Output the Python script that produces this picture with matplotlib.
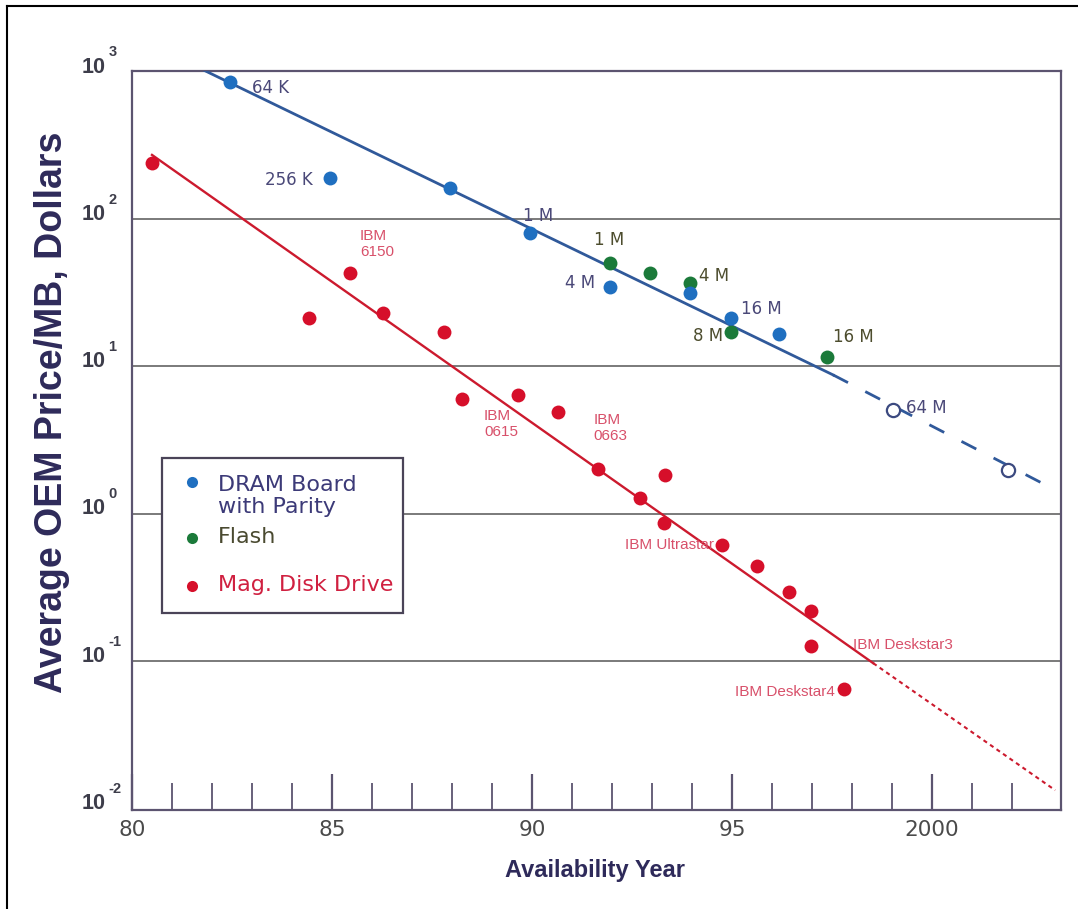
import numpy as np
import matplotlib
matplotlib.use('Agg')
import matplotlib.pyplot as plt
from matplotlib.lines import Line2D
from matplotlib.patches import Rectangle
from matplotlib.ticker import FixedLocator, FixedFormatter, NullFormatter

# ---------------- data ----------------
dram_year = [82.45, 84.95, 87.95, 89.95, 91.95, 93.95, 94.98, 96.18]
dram_price = [855, 190, 163, 80.5, 34.6, 31.5, 21.3, 16.6]
dram_proj_year = [99.03, 101.9]
dram_proj_price = [5.06, 1.98]

flash_year = [91.95, 92.95, 93.95, 94.98, 97.38]
flash_price = [50.4, 43.2, 36.9, 17.1, 11.6]

disk_year = [80.5, 84.43, 85.45, 86.28, 87.8, 88.25, 89.65, 90.65, 91.65,
             92.7, 93.3, 93.33, 94.75, 95.63, 96.43, 96.98, 96.98, 97.8]
disk_price = [241, 21.3, 43.2, 23.1, 17.1, 6.0, 6.4, 4.9, 2.0,
              1.28, 0.86, 1.83, 0.61, 0.44, 0.293, 0.218, 0.126, 0.0646]

# trend lines (fit + projection)
dram_fit_year = [81.78, 97.53]
dram_fit_price = [1032, 8.75]
dram_ext_year = [97.53, 103.08]
dram_ext_price = [8.75, 1.45]
disk_fit_year = [80.5, 98.53]
disk_fit_price = [273, 0.0966]
disk_ext_year = [98.53, 103.08]
disk_ext_price = [0.0966, 0.01325]

# point labels: (text, year, price, ha)
dram_labels = [('64 K', 83.0, 778, 'left'), ('256 K', 84.53, 184.6, 'right'),
               ('1 M', 89.78, 105, 'left'), ('4 M', 91.58, 36.9, 'right'),
               ('16 M', 95.23, 24.5, 'left'), ('64 M', 99.35, 5.2, 'left')]
flash_labels = [('1 M', 91.55, 72.3, 'left'), ('4 M', 94.18, 41.1, 'left'),
                ('8 M', 94.78, 16.1, 'right'), ('16 M', 97.53, 15.85, 'left')]
disk_labels = [('IBM\n6150', 85.7, 68, 'left'), ('IBM\n0615', 88.8, 4.06, 'left'),
               ('IBM\n0663', 91.53, 3.82, 'left'), ('IBM Ultrastar', 94.55, 0.612, 'right'),
               ('IBM Deskstar3', 98.03, 0.128, 'left'), ('IBM Deskstar4', 97.58, 0.0614, 'right')]

decades = [-2, -1, 0, 1, 2, 3]
major_years = [80, 85, 90, 95, 100]
major_labels = ['80', '85', '90', '95', '2000']
minor_years = [y for y in range(81, 103) if y % 5]
# ---------------------------------------------------------

BLUE = '#1f6fc0'
BLUE_LINE = '#30599a'
GREEN = '#1b7a3a'
RED = '#d60f2a'
RED_LINE = '#cc1a2e'
SPINE = '#5c5470'
GRID = '#707070'
BLUE_TXT = '#4a4878'
GREEN_TXT = '#4d4d2e'
RED_TXT = '#d8506a'

fig = plt.figure(figsize=(10.78, 9.09), dpi=100)
ax = fig.add_axes([132 / 1078, 1 - 810 / 909, 929 / 1078, 739 / 909])
ax.set_yscale('log')
ax.set_xlim(80, 103.225)
ax.set_ylim(10 ** -2.012, 10 ** 3.006)

for d in decades[1:-1]:
    ax.axhline(10.0 ** d, color=GRID, lw=1.3, zorder=1)

for s in ax.spines.values():
    s.set_color(SPINE)
    s.set_linewidth(1.6)

# x ticks drawn inside, long ones every 5 years
ax.xaxis.set_major_locator(FixedLocator(major_years))
ax.xaxis.set_major_formatter(FixedFormatter(major_labels))
ax.xaxis.set_minor_locator(FixedLocator(minor_years))
ax.xaxis.set_minor_formatter(NullFormatter())
ax.tick_params(axis='x', which='major', direction='in', length=26, width=1.6,
               color=SPINE, labelsize=15.5, labelcolor='#4a4a4a', pad=7)
ax.tick_params(axis='x', which='minor', direction='in', length=19.5, width=1.3,
               color=SPINE)
for lab in ax.get_xticklabels():
    lab.set_family('DejaVu Sans')
ax.yaxis.set_major_locator(FixedLocator([]))
ax.yaxis.set_minor_locator(FixedLocator([]))

# y labels as 10 with a raised exponent
for d in decades:
    ax.annotate('10', xy=(0, 10.0 ** d), xycoords=('axes fraction', 'data'),
                xytext=(-19, 3.5), textcoords='offset points', ha='right', va='center',
                fontsize=15.5, fontweight='bold', color='#3d3d4a', family='Liberation Sans')
    ax.annotate(str(d), xy=(0, 10.0 ** d), xycoords=('axes fraction', 'data'),
                xytext=(-17, 14), textcoords='offset points', ha='left', va='center',
                fontsize=10.5, fontweight='bold', color='#3d3d4a', family='Liberation Sans')

# trend lines
ax.plot(dram_fit_year, dram_fit_price, color=BLUE_LINE, lw=2.0, zorder=3)
ax.plot(dram_ext_year, dram_ext_price, color=BLUE_LINE, lw=2.0, ls=(0, (6, 7)), zorder=3)
ax.plot(disk_fit_year, disk_fit_price, color=RED_LINE, lw=1.7, zorder=3)
ax.plot(disk_ext_year, disk_ext_price, color=RED_LINE, lw=1.5, ls=(0, (2, 1.8)), zorder=3)

# data points
ax.plot(dram_year, dram_price, 'o', color=BLUE, ms=10, mec='none', zorder=5)
ax.plot(flash_year, flash_price, 'o', color=GREEN, ms=10, mec='none', zorder=4)
ax.plot(disk_year, disk_price, 'o', color=RED, ms=10, mec='none', zorder=5)
ax.plot(dram_proj_year, dram_proj_price, 'o', mfc='white', mec='#3c4a80', mew=1.6,
        ms=9.5, zorder=5)

for txt, x, y, ha in dram_labels:
    ax.text(x, y, txt, ha=ha, va='center', fontsize=12, color=BLUE_TXT,
            family='DejaVu Sans', zorder=6)
for txt, x, y, ha in flash_labels:
    ax.text(x, y, txt, ha=ha, va='center', fontsize=12, color=GREEN_TXT,
            family='DejaVu Sans', zorder=6)
for txt, x, y, ha in disk_labels:
    ax.text(x, y, txt, ha=ha, va='center', fontsize=11, color=RED_TXT,
            family='Liberation Sans', linespacing=1.15, zorder=6)

# legend box drawn by hand
ax.add_patch(Rectangle((0.0323, 0.2666), 0.2594, 0.2097, transform=ax.transAxes,
                       facecolor='white', edgecolor='#4a4458', lw=1.6, zorder=7))
leg_items = [('DRAM Board\nwith Parity', BLUE, 0.4438, 0.425, '#3c3a78'),
             ('Flash', GREEN, 0.368, 0.3694, '#4a4a30'),
             ('Mag. Disk Drive', RED, 0.3031, 0.3045, '#d02040')]
for txt, col, ym, yt, tcol in leg_items:
    ax.plot([0.0646], [ym], 'o', color=col, ms=8, mec='none',
            transform=ax.transAxes, zorder=8, clip_on=False)
    ax.text(0.0926, yt, txt, transform=ax.transAxes, ha='left', va='center',
            fontsize=16, color=tcol, family='DejaVu Sans', linespacing=1.15, zorder=8)

fig.text(52 / 1078, 1 - 412 / 909, 'Average OEM Price/MB, Dollars', rotation=90,
         ha='center', va='center', fontsize=27, fontweight='bold', color='#2e2a5a',
         family='Liberation Sans')
fig.text(595 / 1078, 1 - 871 / 909, 'Availability Year', ha='center', va='center',
         fontsize=17, fontweight='bold', color='#2e2a5a', family='Liberation Sans')

# page frame (top and left edges)
fig.add_artist(Line2D([7 / 1078, 1.0], [1 - 6 / 909, 1 - 6 / 909], color='black', lw=1.5))
fig.add_artist(Line2D([7 / 1078, 7 / 1078], [0, 1 - 6 / 909], color='black', lw=1.5))

fig.savefig('out.png', dpi=100)
